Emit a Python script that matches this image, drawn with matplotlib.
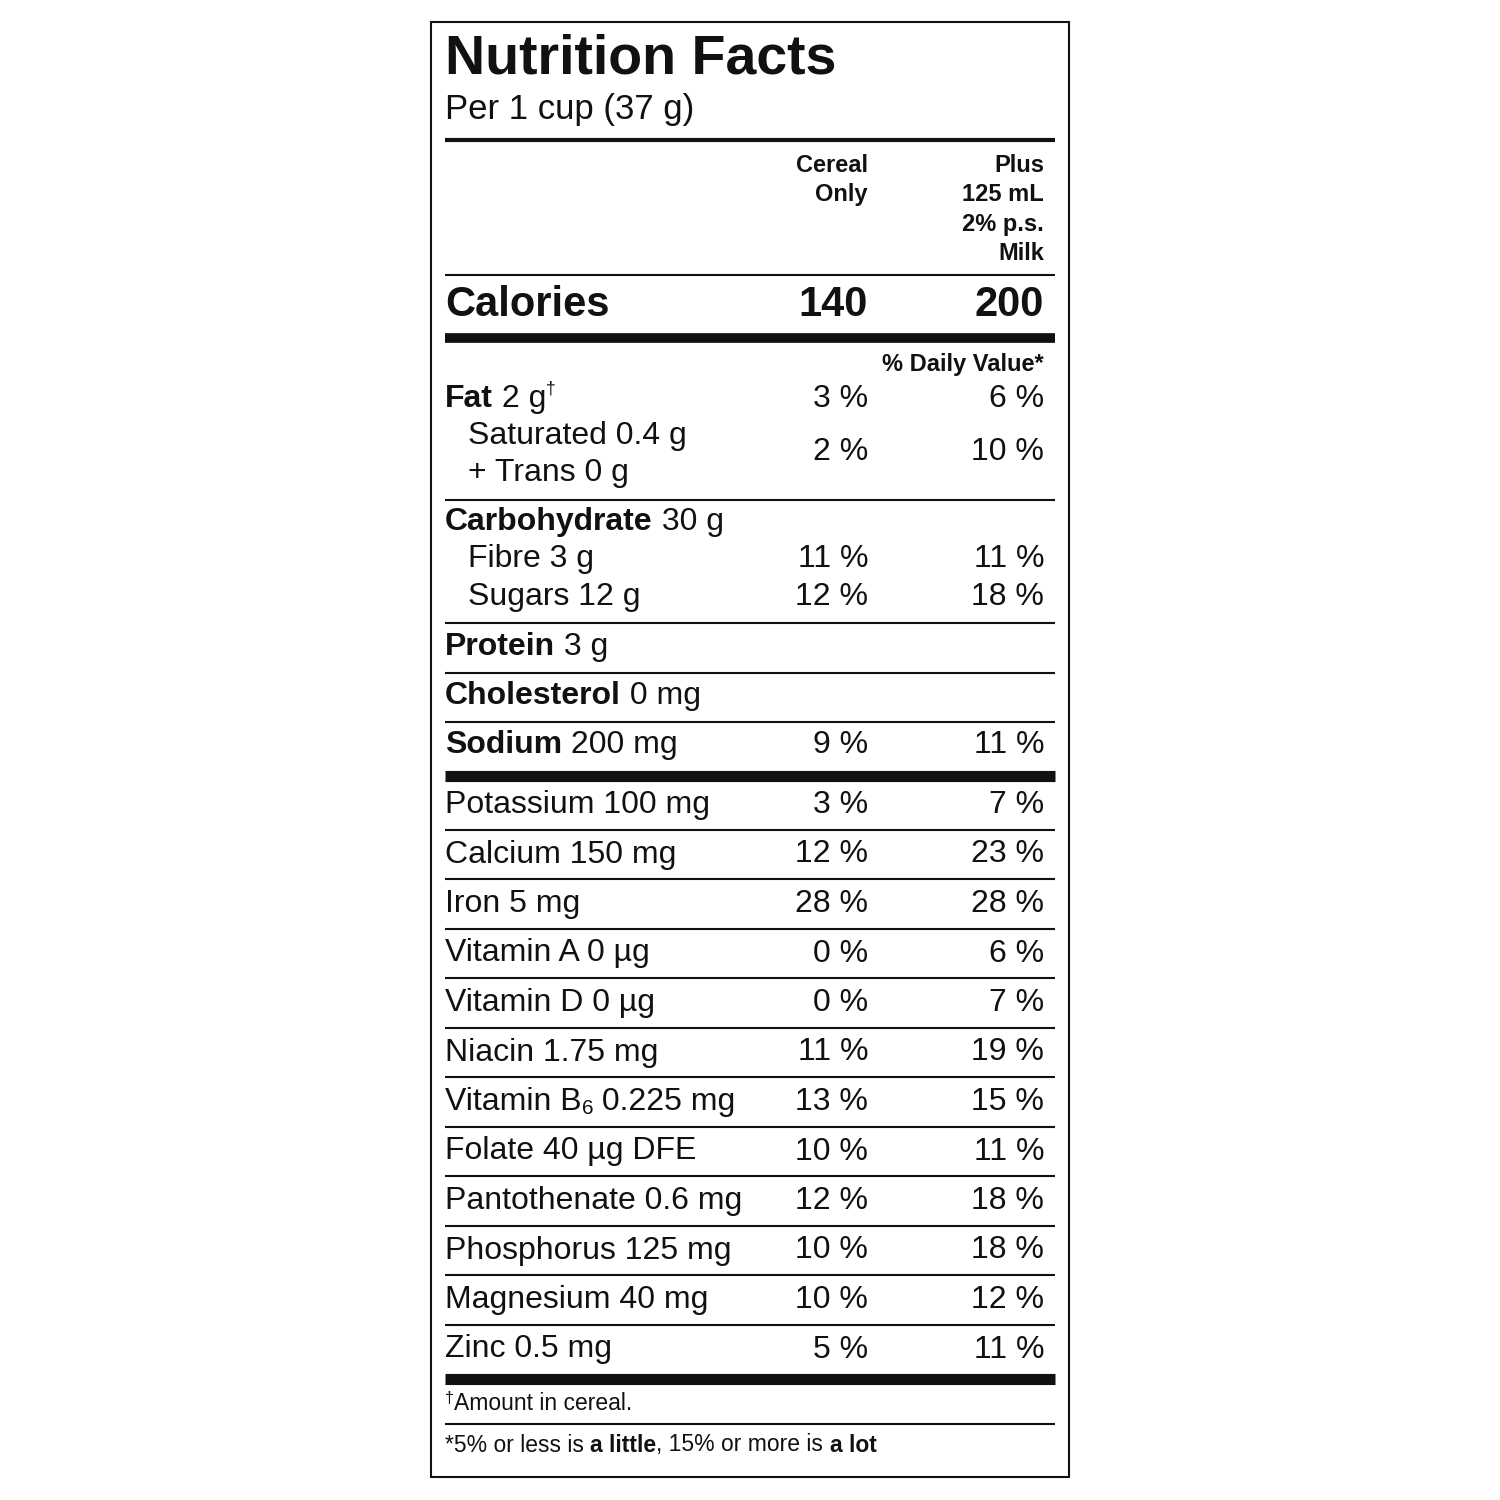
import matplotlib
matplotlib.use("Agg")
import matplotlib.pyplot as plt

plt.rcParams['font.family'] = ['Liberation Sans', 'DejaVu Sans']

# label content
fat_rows = [("Fat", " 2 g", "3 %", "6 %")]
carb_subs = [("Fibre 3 g", "11 %", "11 %"), ("Sugars 12 g", "12 %", "18 %")]
minerals = ["Potassium 100 mg", "Calcium 150 mg", "Iron 5 mg", "Vitamin A 0 µg",
            "Vitamin D 0 µg", "Niacin 1.75 mg", "Vitamin B", "Folate 40 µg DFE",
            "Pantothenate 0.6 mg", "Phosphorus 125 mg", "Magnesium 40 mg", "Zinc 0.5 mg"]
cereal_pct = ["3 %", "12 %", "28 %", "0 %", "0 %", "11 %", "13 %", "10 %", "12 %", "10 %", "10 %", "5 %"]
milk_pct = ["7 %", "23 %", "28 %", "6 %", "7 %", "19 %", "15 %", "11 %", "18 %", "18 %", "12 %", "11 %"]

fig = plt.figure(figsize=(15, 15), dpi=100)
ax = fig.add_axes([0, 0, 1, 1])
ax.set_xlim(0, 1500)
ax.set_ylim(1500, 0)
ax.axis('off')
renderer = fig.canvas.get_renderer()

L, R = 445, 1055
C1, C2 = 868, 1044


def segs(x, y, parts, size, va='center'):
    """Draw consecutive text segments: (text, bold, size_scale, dy)."""
    for txt, bold, scale, dy in parts:
        t = ax.text(x, y + dy, txt, fontsize=size * scale, fontweight='bold' if bold else 'normal',
                    va=va, ha='left', color='#111')
        bb = t.get_window_extent(renderer)
        x += bb.width


def hline(y, lw):
    ax.plot([L, R], [y, y], color='#111', lw=lw, solid_capstyle='butt')


def rtext(x, y, s, size=24, bold=False):
    ax.text(x, y, s, fontsize=size, fontweight='bold' if bold else 'normal',
            ha='right', va='center', color='#111')


ax.add_patch(plt.Rectangle((431, 22), 638, 1455, fill=False, lw=1.5, ec='#111'))

ax.text(L, 60, "Nutrition Facts", fontsize=40, fontweight='bold', va='center', color='#111')
ax.text(L, 110, "Per 1 cup (37 g)", fontsize=25, va='center', color='#111')
hline(140, 3)

for i, s in enumerate(["Cereal", "Only"]):
    rtext(C1, 165 + 29 * i, s, 17, True)
for i, s in enumerate(["Plus", "125 mL", "2% p.s.", "Milk"]):
    rtext(C2, 165 + 29.5 * i, s, 17, True)
hline(275, 1.5)

ax.text(L, 305, "Calories", fontsize=30, fontweight='bold', va='center', color='#111')
rtext(C1, 305, "140", 30, True)
rtext(C2, 305, "200", 30, True)
hline(338, 7)

rtext(C2, 365, "% Daily Value*", 17, True)

name, amt, p1, p2 = fat_rows[0]
segs(L, 399, [(name, True, 1, 0), (amt, False, 1, 0), ("†", False, 0.55, -10)], 23)
rtext(C1, 399, p1, 23)
rtext(C2, 399, p2, 23)
ax.text(468, 436, "Saturated 0.4 g", fontsize=23, va='center', color='#111')
ax.text(468, 473, "+ Trans 0 g", fontsize=23, va='center', color='#111')
rtext(C1, 452, "2 %", 23)
rtext(C2, 452, "10 %", 23)
hline(500, 1.5)

segs(L, 522, [("Carbohydrate", True, 1, 0), (" 30 g", False, 1, 0)], 23)
for i, (s, p1, p2) in enumerate(carb_subs):
    y = 559 + 38 * i
    ax.text(468, y, s, fontsize=23, va='center', color='#111')
    rtext(C1, y, p1, 23)
    rtext(C2, y, p2, 23)
hline(623, 1.5)
segs(L, 647, [("Protein", True, 1, 0), (" 3 g", False, 1, 0)], 23)
hline(673, 1.5)
segs(L, 696, [("Cholesterol", True, 1, 0), (" 0 mg", False, 1, 0)], 23)
hline(722, 1.5)
segs(L, 745, [("Sodium", True, 1, 0), (" 200 mg", False, 1, 0)], 23)
rtext(C1, 745, "9 %", 23)
rtext(C2, 745, "11 %", 23)
hline(776, 8)

for i, (s, p1, p2) in enumerate(zip(minerals, cereal_pct, milk_pct)):
    y = 805 + 49.5 * i
    if s == "Vitamin B":
        segs(L, y, [("Vitamin B", False, 1, 0), ("6", False, 0.65, 7), (" 0.225 mg", False, 1, 0)], 23)
    else:
        ax.text(L, y, s, fontsize=23, va='center', color='#111')
    rtext(C1, y, p1, 23)
    rtext(C2, y, p2, 23)
    if i < len(minerals) - 1:
        hline(y + 24.5, 1.5)
hline(1379, 8)

segs(L, 1404, [("†", False, 0.7, -6), ("Amount in cereal.", False, 1, 0)], 16.5)
hline(1424, 1.5)
segs(L, 1445, [("*5% or less is ", False, 1, 0), ("a little", True, 1, 0),
               (", 15% or more is ", False, 1, 0), ("a lot", True, 1, 0)], 16.5)

fig.savefig("out.png", dpi=100, facecolor='white')
